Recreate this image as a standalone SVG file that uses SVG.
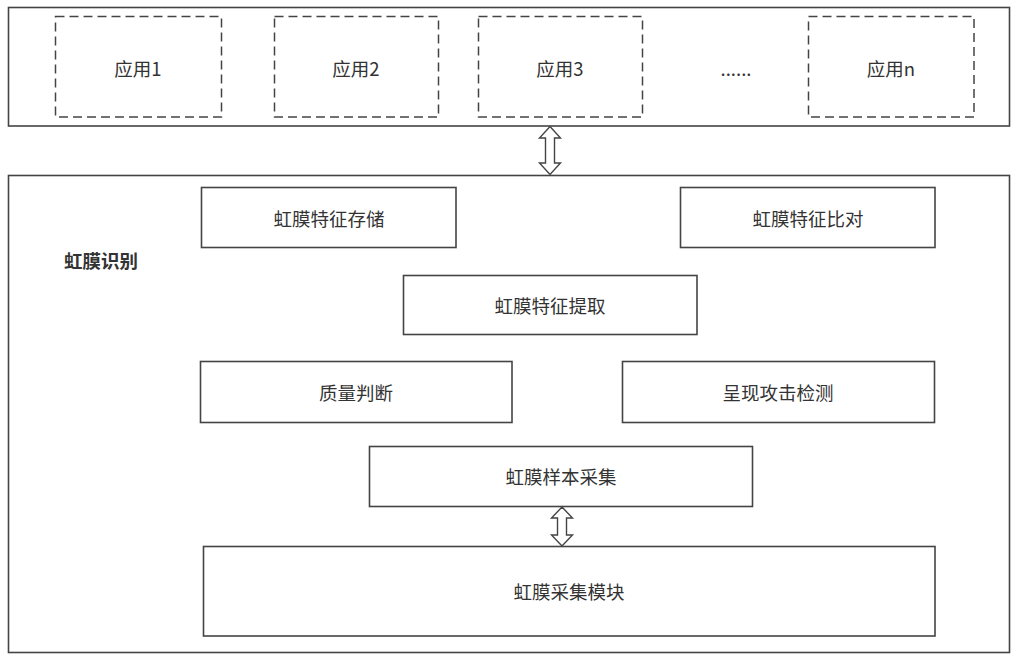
<svg xmlns="http://www.w3.org/2000/svg" width="1018" height="656" viewBox="0 0 1018 656">
<style>
.outer{fill:#fff;stroke:#444;stroke-width:1.6}
.app{fill:#fff;stroke:#444;stroke-width:1.5;stroke-dasharray:9,5}
.box{fill:#fff;stroke:#444;stroke-width:1.6}
.t{font-family:"Noto Sans CJK SC","Liberation Sans",sans-serif;font-size:18.5px;fill:#333;text-anchor:middle;dominant-baseline:central}
.b{font-weight:bold}
.arr{fill:#fff;stroke:#444;stroke-width:1.4;stroke-linejoin:miter}
</style>
<rect width="1018" height="656" fill="#fff"/>
<g id="apps-layer">
<rect class="outer" x="8.5" y="7.5" width="1001" height="118.5"/>
</g>
<g id="app1"><rect class="app" x="55.5" y="16.5" width="166" height="100.5"/><text class="t" x="138" y="68">应用1</text></g>
<g id="app2"><rect class="app" x="274.5" y="16.5" width="164" height="100.5"/><text class="t" x="356" y="68">应用2</text></g>
<g id="app3"><rect class="app" x="478.5" y="16.5" width="164" height="100.5"/><text class="t" x="560" y="68">应用3</text></g>
<g id="ellipsis"><text class="t" x="736" y="68">......</text></g>
<g id="appn"><rect class="app" x="808.5" y="16.5" width="165.5" height="100.5"/><text class="t" x="891" y="68">应用n</text></g>
<g id="iris-recognition">
<rect class="outer" x="8.5" y="175.5" width="1001" height="477"/>
<text class="t b" x="101" y="260">虹膜识别</text>
</g>
<g id="storage"><rect class="box" x="201.5" y="187.5" width="254.5" height="60"/><text class="t" x="329" y="218">虹膜特征存储</text></g>
<g id="compare"><rect class="box" x="680.5" y="187.5" width="254.5" height="60"/><text class="t" x="808" y="218">虹膜特征比对</text></g>
<g id="extract"><rect class="box" x="403.5" y="275.5" width="293.5" height="59"/><text class="t" x="550" y="305">虹膜特征提取</text></g>
<g id="quality"><rect class="box" x="200.5" y="361.5" width="311.5" height="61"/><text class="t" x="356" y="392">质量判断</text></g>
<g id="pad"><rect class="box" x="622.5" y="361.5" width="312" height="61"/><text class="t" x="778" y="392">呈现攻击检测</text></g>
<g id="sample"><rect class="box" x="369.5" y="446.5" width="383" height="60"/><text class="t" x="561" y="476">虹膜样本采集</text></g>
<g id="acquisition"><rect class="box" x="203.5" y="546.5" width="731.5" height="89.5"/><text class="t" x="569" y="591">虹膜采集模块</text></g>
<g id="connectors">
<path class="arr" d="M550,126.5 L560.5,138 L554.5,138 L554.5,163 L560.5,163 L550,174.5 L539.5,163 L545.5,163 L545.5,138 L539.5,138 Z"/>
<path class="arr" d="M562,507 L572.5,518 L566.5,518 L566.5,535 L572.5,535 L562,546 L551.5,535 L557.5,535 L557.5,518 L551.5,518 Z"/>
</g>
</svg>
